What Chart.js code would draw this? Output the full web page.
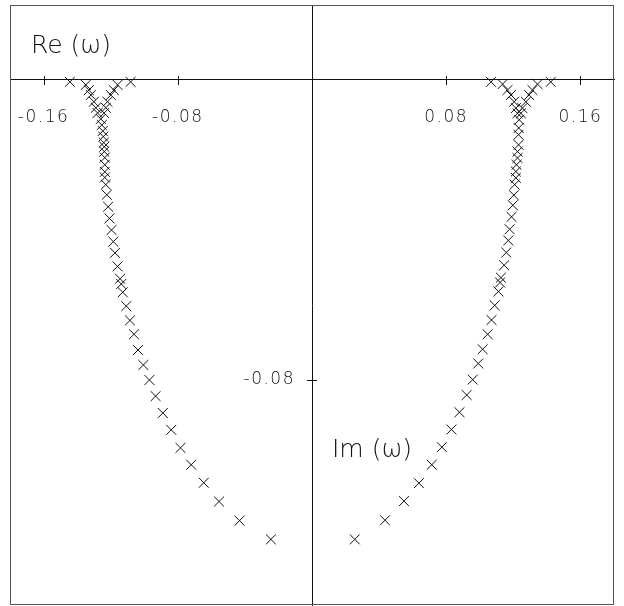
<!DOCTYPE html>
<html>
<head>
<meta charset="utf-8">
<script src="https://cdn.jsdelivr.net/npm/chart.js@4.4.1/dist/chart.umd.min.js"></script>
<style>
    html, body { margin: 0; padding: 0; background: #fff; }
    #box { width: 624px; height: 606px; }
</style>
</head>
<body>
<div id="box"><canvas id="rootsChart"></canvas></div>
<script>
// roots in the complex omega plane, left and right branches
var leftRe = [
    -0.1443, -0.1348, -0.1330, -0.1318, -0.1300, -0.1288, -0.1278,
    -0.1081, -0.1159, -0.1181, -0.1199, -0.1219, -0.1229, -0.1239,
    -0.1259, -0.1253, -0.1247, -0.1244, -0.1241, -0.1238, -0.1238, -0.1235, -0.1235, -0.1235, -0.1235,
    -0.1229, -0.1223, -0.1215, -0.1207, -0.1195, -0.1184, -0.1174, -0.1159, -0.1144, -0.1137,
    -0.1128, -0.1107, -0.1085, -0.1061, -0.1037, -0.1005, -0.0969, -0.0932, -0.0889, -0.0839,
    -0.0784, -0.0720, -0.0645, -0.0554, -0.0432, -0.0245
];
var leftIm = [
    -0.0005, -0.0013, -0.0027, -0.0040, -0.0058, -0.0074, -0.0088,
    -0.0005, -0.0013, -0.0027, -0.0040, -0.0058, -0.0074, -0.0088,
    -0.0104, -0.0120, -0.0136, -0.0151, -0.0167, -0.0178, -0.0191, -0.0207, -0.0226, -0.0245, -0.0260,
    -0.0279, -0.0306, -0.0338, -0.0369, -0.0400, -0.0431, -0.0461, -0.0497, -0.0530, -0.0544,
    -0.0566, -0.0603, -0.0641, -0.0678, -0.0720, -0.0760, -0.0800, -0.0843, -0.0888, -0.0933,
    -0.0981, -0.1026, -0.1074, -0.1124, -0.1175, -0.1225
];
var rightRe = [
    0.1067, 0.1136, 0.1165, 0.1186, 0.1205, 0.1215, 0.1225,
    0.1423, 0.1344, 0.1314, 0.1294, 0.1275, 0.1254, 0.1245,
    0.1235, 0.1232, 0.1231, 0.1231, 0.1225, 0.1225, 0.1219, 0.1215, 0.1215, 0.1208,
    0.1203, 0.1197, 0.1189, 0.1178, 0.1170, 0.1158, 0.1145, 0.1126, 0.1121, 0.1111,
    0.1089, 0.1070, 0.1047, 0.1017, 0.0991, 0.0958, 0.0922, 0.0879, 0.0831, 0.0774,
    0.0714, 0.0637, 0.0548, 0.0435, 0.0255
];
var rightIm = [
    -0.0005, -0.0011, -0.0027, -0.0040, -0.0058, -0.0075, -0.0089,
    -0.0005, -0.0011, -0.0027, -0.0040, -0.0058, -0.0075, -0.0089,
    -0.0106, -0.0128, -0.0146, -0.0173, -0.0191, -0.0208, -0.0226, -0.0244, -0.0261, -0.0279,
    -0.0307, -0.0334, -0.0365, -0.0398, -0.0428, -0.0460, -0.0494, -0.0527, -0.0540, -0.0564,
    -0.0601, -0.0640, -0.0678, -0.0718, -0.0756, -0.0799, -0.0840, -0.0886, -0.0932, -0.0979,
    -0.1026, -0.1075, -0.1123, -0.1174, -0.1225
];
var xTicks = [-0.16, -0.08, 0.08, 0.16];
var yTicks = [-0.08];

var fontFamily = "'DejaVu Sans', sans-serif";
var ink = '#111';

function toPoints(re, im) {
    return re.map((x, i) => ({ x: x, y: im[i] }));
}

// frame, crossing tick marks, the Im tick label and the two axis names
var decorations = {
    id: 'decorations',
    beforeDraw: function (chart) {
        // the plotter's numbers are spaced out a little
        chart.ctx.letterSpacing = '1.5px';
    },
    afterDraw: function (chart) {
        let ctx = chart.ctx;
        let area = chart.chartArea;
        let xs = chart.scales.x;
        let ys = chart.scales.y;
        let x0 = xs.getPixelForValue(0);
        let y0 = ys.getPixelForValue(0);
        ctx.save();
        ctx.strokeStyle = '#555';
        ctx.lineWidth = 1;
        ctx.strokeRect(area.left + 0.5, area.top + 0.5, area.right - area.left - 1, area.bottom - area.top - 1);

        ctx.strokeStyle = ink;
        ctx.beginPath();
        xTicks.forEach(v => {
            let px = Math.round(xs.getPixelForValue(v)) + 0.5;
            ctx.moveTo(px, y0 - 4);
            ctx.lineTo(px, y0 + 5);
        });
        yTicks.forEach(v => {
            let py = Math.round(ys.getPixelForValue(v)) + 0.5;
            ctx.moveTo(x0 - 5, py);
            ctx.lineTo(x0 + 5, py);
        });
        ctx.stroke();

        ctx.fillStyle = ink;
        ctx.textBaseline = 'middle';
        ctx.textAlign = 'right';
        ctx.font = '200 17px ' + fontFamily;
        yTicks.forEach(v => {
            ctx.fillText(v.toFixed(2), x0 - 17, ys.getPixelForValue(v));
        });

        ctx.letterSpacing = '0px';
        ctx.textAlign = 'left';
        ctx.font = '200 25px ' + fontFamily;
        ctx.fillText('Re (\u03c9)', xs.getPixelForValue(-0.1675), ys.getPixelForValue(0.0090));
        ctx.fillText('Im (\u03c9)', xs.getPixelForValue(0.0119), ys.getPixelForValue(-0.0989));
        ctx.restore();
    }
};

var pointStyle = {
    pointStyle: 'crossRot',
    pointRadius: 7,
    pointBorderWidth: 1,
    borderColor: ink,
    backgroundColor: ink,
    showLine: false
};

var config = {
    type: 'scatter',
    data: {
        datasets: [
            Object.assign({ label: 'left', data: toPoints(leftRe, leftIm) }, pointStyle),
            Object.assign({ label: 'right', data: toPoints(rightRe, rightIm) }, pointStyle)
        ]
    },
    options: {
        responsive: true,
        maintainAspectRatio: false,
        animation: false,
        layout: {
            autoPadding: false,
            padding: { left: 10, right: 10, top: 5, bottom: 1 }
        },
        plugins: {
            legend: { display: false },
            tooltip: { enabled: false }
        },
        scales: {
            x: {
                type: 'linear',
                min: -0.18,
                max: 0.18,
                position: { y: 0 },
                afterBuildTicks: function (scale) {
                    scale.ticks = xTicks.map(v => ({ value: v }));
                },
                grid: { display: false, drawTicks: false },
                border: { display: true, color: ink, width: 1 },
                ticks: {
                    padding: 0,
                    color: ink,
                    // tall line box pushes the labels down below the axis
                    font: { family: fontFamily, size: 17, weight: '200', lineHeight: '76px' },
                    callback: function (v) { return v.toFixed(2); }
                }
            },
            y: {
                type: 'linear',
                min: -0.14,
                max: 0.02,
                position: { x: 0 },
                afterBuildTicks: function (scale) {
                    scale.ticks = yTicks.map(v => ({ value: v }));
                },
                grid: { display: false, drawTicks: false },
                border: { display: true, color: ink, width: 1 },
                ticks: { display: false }
            }
        }
    },
    plugins: [decorations]
};

var rootsChart = new Chart(document.getElementById('rootsChart'), config);
</script>
</body>
</html>
